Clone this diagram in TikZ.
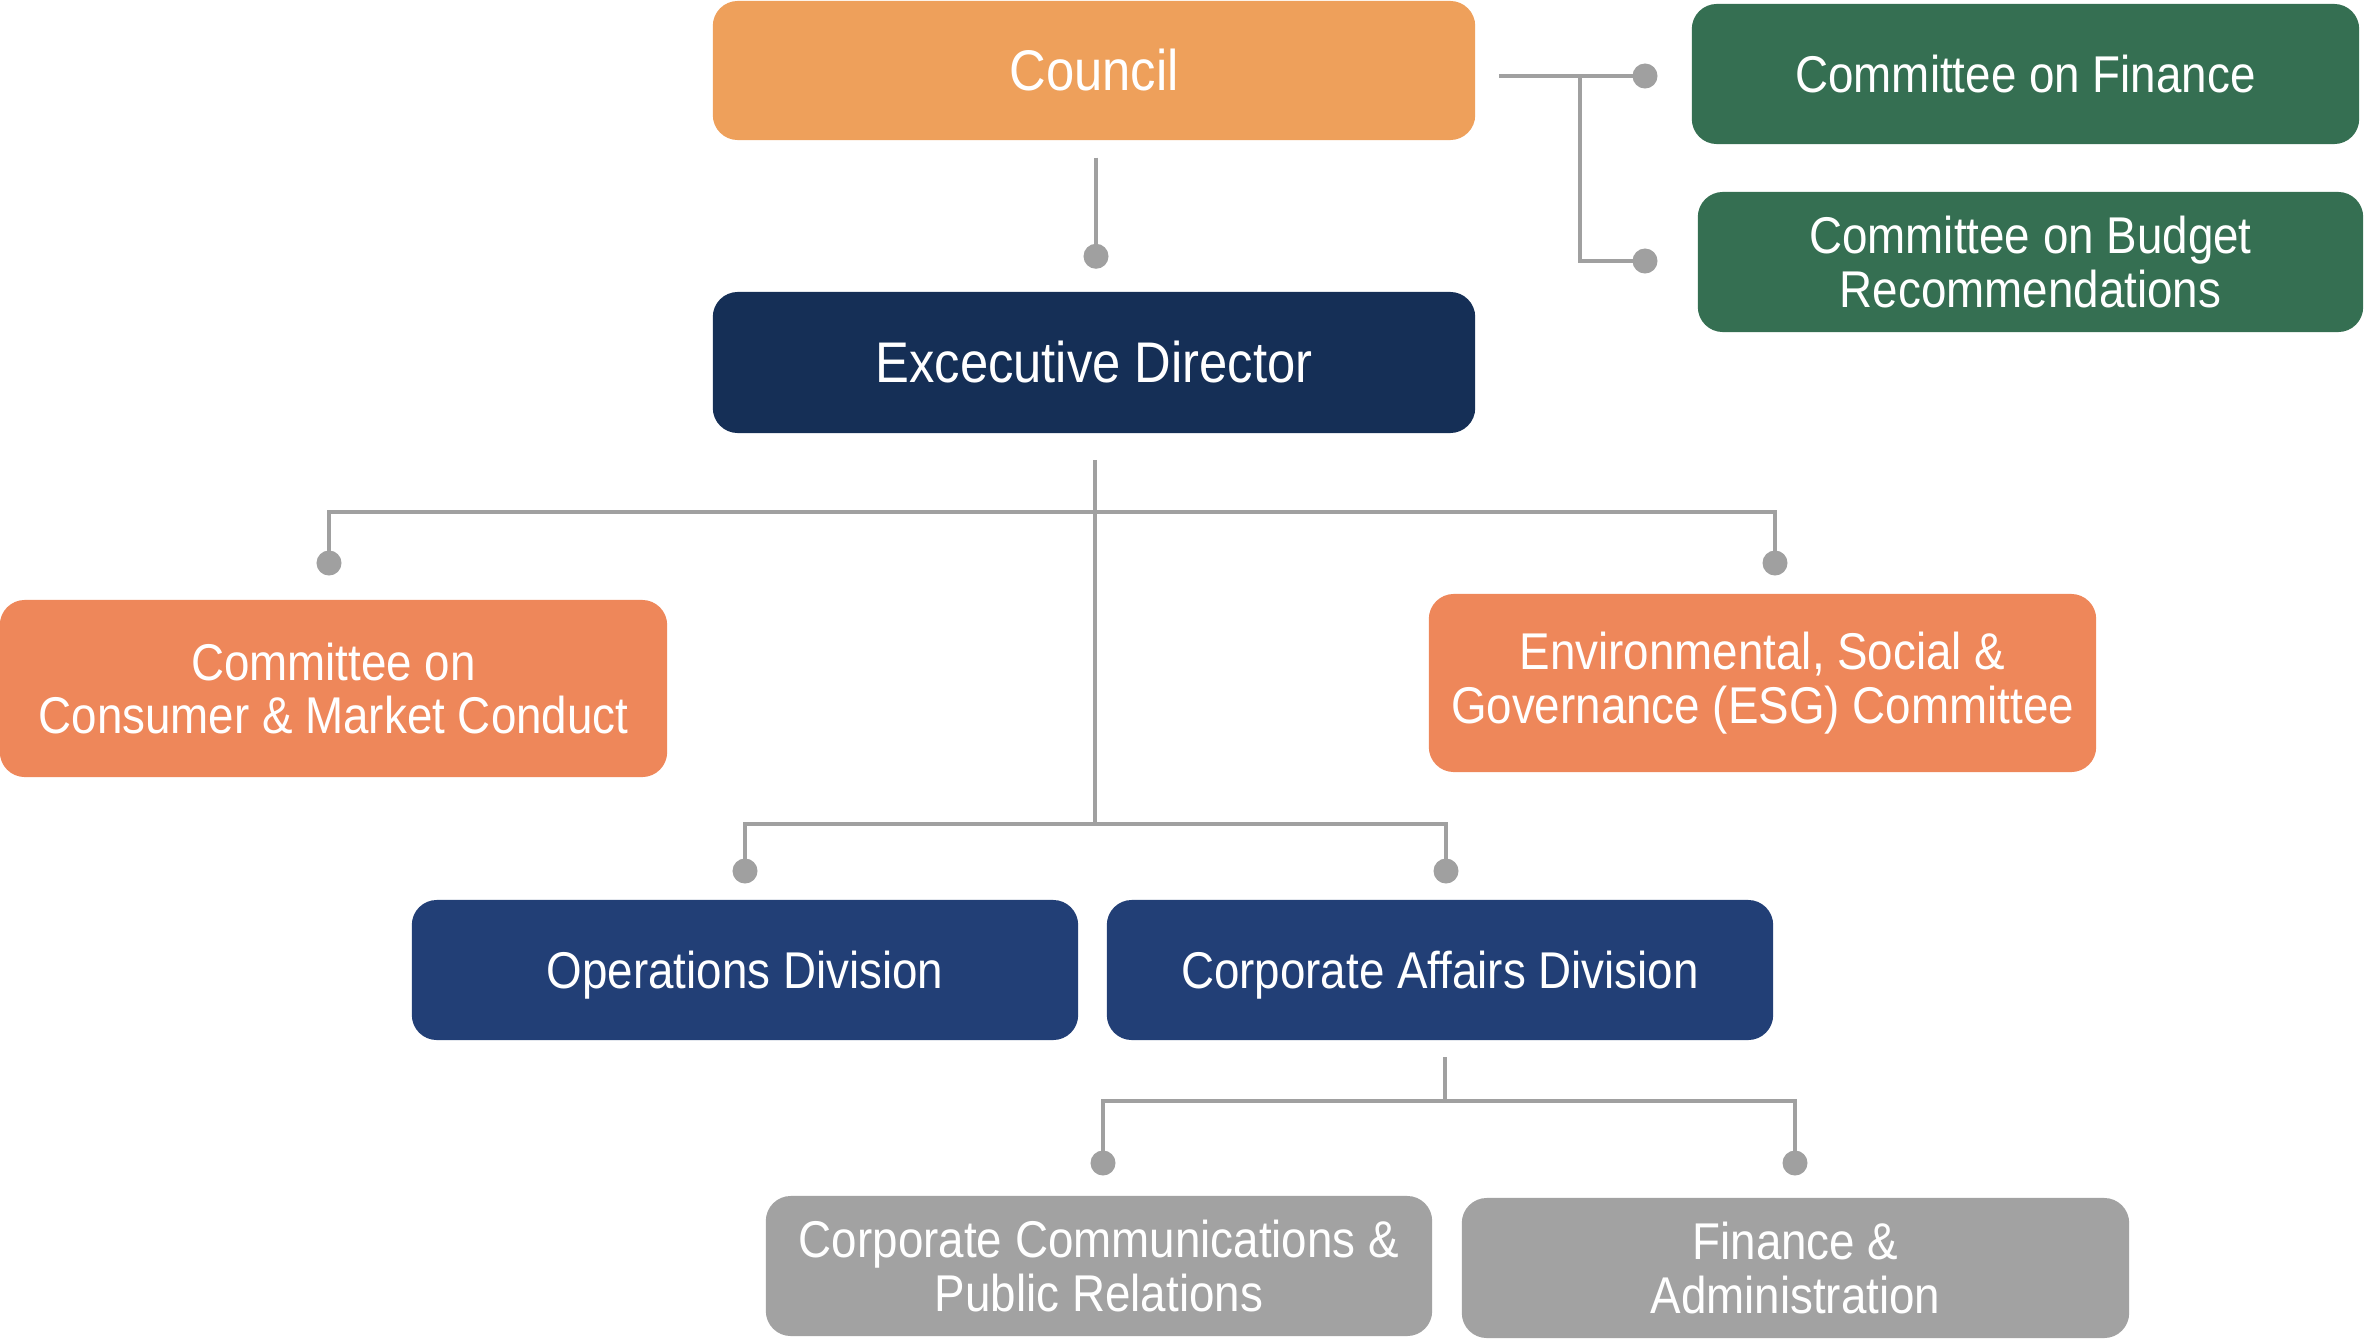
\documentclass[tikz,border=0pt]{standalone}
\usepackage{fontspec}
\setmainfont{Liberation Sans}[FakeStretch=0.885]
\usetikzlibrary{calc}
\definecolor{councilc}{HTML}{EEA05B}
\definecolor{edc}{HTML}{152F56}
\definecolor{greenc}{HTML}{356F52}
\definecolor{coralc}{HTML}{EE875A}
\definecolor{navyc}{HTML}{223F76}
\definecolor{grayc}{HTML}{A2A2A2}
\definecolor{linec}{HTML}{A0A0A0}
\begin{document}
\begin{tikzpicture}[x=0.01cm,y=-0.01cm,
  box/.style={rounded corners=0.25cm, minimum width=6.66cm, minimum height=1.40cm,
    text=white, align=center, inner sep=0pt, font=\fontsize{14.7}{15.2}\selectfont},
  bigtext/.style={font=\fontsize{16.3}{17}\selectfont},
  capline/.style={text height=10.5pt, text depth=0pt},
  link/.style={draw=linec, line width=1.25pt},
  pin/.style={fill=linec}]
\useasboundingbox (0,0) rectangle (2365,1339);

% boxes
\node[box, bigtext, fill=councilc, minimum width=7.62cm, minimum height=1.39cm] (council) at (1094,70.5) {Council};
\node[box, fill=greenc, minimum width=6.67cm] (fin) at (2025.5,74) {Committee on Finance};
\node[box, fill=greenc, minimum width=6.65cm] (bud) at (2030.5,262) {Committee on Budget\\Recommendations};
\node[box, bigtext, fill=edc, minimum width=7.62cm, minimum height=1.41cm] (ed) at (1094,362.5) {Excecutive Director};
\node[box, fill=coralc, minimum width=6.67cm, minimum height=1.77cm] (cons) at (333.5,688.5) {Committee on\\Consumer \& Market Conduct};
\node[box, fill=coralc, minimum width=6.67cm, minimum height=1.78cm] (esg) at (1762.5,683) {Environmental, Social \&\\Governance (ESG) Committee};
\node[box, capline, fill=navyc] (ops) at (745,970) {Operations Division};
\node[box, capline, fill=navyc] (ca) at (1440,970) {Corporate Affairs Division};
\node[box, fill=grayc] (cc) at (1099,1266) {Corporate Communications \&\\Public Relations};
\node[box, fill=grayc, minimum width=6.67cm] (fa) at (1795.5,1268) {Finance \&\\Administration};

% Council -> Executive Director
\coordinate (cT) at ($(council.south)+(2,17)$);
\coordinate (dEd) at ($(ed.north)+(2,-35)$);
\draw[link] (cT) -- (dEd);
\fill[pin] (dEd) circle[radius=0.125cm];

% Council -> committees
\coordinate (cR) at ($(council.east)+(23,5.5)$);
\coordinate (dFin) at (1645,76);
\coordinate (jFin) at (1580,76);
\coordinate (dBud) at (1645,261);
\draw[link] (cR) -- (dFin);
\draw[link] (jFin) -- (jFin |- dBud) -- (dBud);
\fill[pin] (dFin) circle[radius=0.125cm];
\fill[pin] (dBud) circle[radius=0.125cm];

% Executive Director -> committees and divisions
\coordinate (eT) at ($(ed.south)+(1,26)$);
\coordinate (eB) at (1095,824);
\coordinate (dCons) at (329,563);
\coordinate (dEsg) at (1775,563);
\draw[link] (eT) -- (eB);
\draw[link] (dCons) -- (329,512) -- (1775,512) -- (dEsg);
\fill[pin] (dCons) circle[radius=0.125cm];
\fill[pin] (dEsg) circle[radius=0.125cm];

\coordinate (dOps) at (745,871);
\coordinate (dCa) at (1446,871);
\draw[link] (dOps) -- (745,824) -- (1446,824) -- (dCa);
\fill[pin] (dOps) circle[radius=0.125cm];
\fill[pin] (dCa) circle[radius=0.125cm];

% Corporate Affairs -> units
\coordinate (caT) at (1445,1057);
\coordinate (caJ) at (1445,1101);
\coordinate (dCc) at (1103,1163);
\coordinate (dFa) at (1795,1163);
\draw[link] (caT) -- (caJ);
\draw[link] (dCc) -- (1103,1101) -- (1795,1101) -- (dFa);
\fill[pin] (dCc) circle[radius=0.125cm];
\fill[pin] (dFa) circle[radius=0.125cm];
\end{tikzpicture}
\end{document}
